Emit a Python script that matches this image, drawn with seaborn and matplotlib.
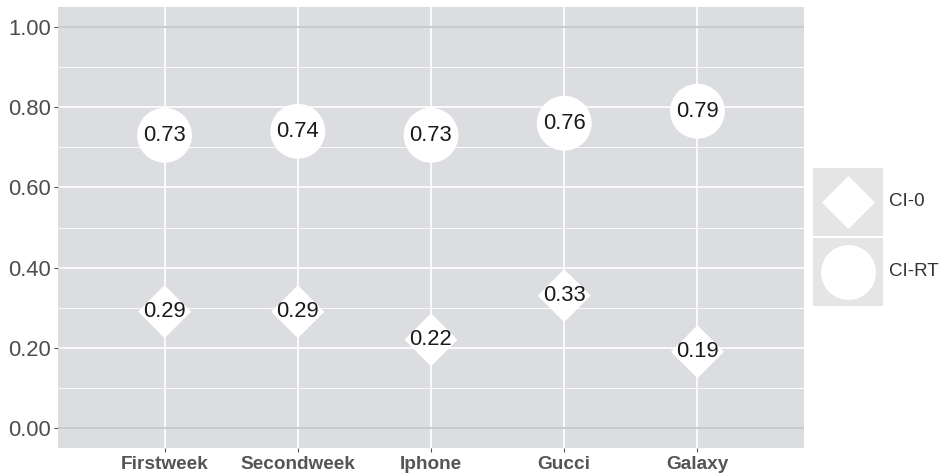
import pandas as pd
import matplotlib.pyplot as plt
import seaborn as sns
from matplotlib.patches import Rectangle

# Data
categories = ['Firstweek', 'Secondweek', 'Iphone', 'Gucci', 'Galaxy']
ci_0 = [0.29, 0.29, 0.22, 0.33, 0.19]
ci_rt = [0.73, 0.74, 0.73, 0.76, 0.79]
series = ['CI-0', 'CI-RT']

df = pd.DataFrame({
    'category': categories * 2,
    'value': ci_0 + ci_rt,
    'type': ['CI-0'] * len(categories) + ['CI-RT'] * len(categories),
})

sns.set_theme(style='darkgrid')
plt.rcParams['font.family'] = ['Liberation Sans', 'DejaVu Sans']

panel = '#dcdde0'
fig = plt.figure(figsize=(9.44, 4.75), dpi=100)
ax = fig.add_axes([58/944, 1 - 448/475, (804 - 58)/944, (448 - 7)/475])
ax.set_facecolor(panel)

marker_of = {'CI-0': 'D', 'CI-RT': 'o'}
size_of = {'CI-0': 730, 'CI-RT': 1560}

for t in series:
    sub = df[df['type'] == t]
    sns.scatterplot(data=sub, x='category', y='value', marker=marker_of[t],
                    s=size_of[t], color='white', edgecolor='none', linewidth=0,
                    ax=ax, zorder=3, legend=False)
    for i, row in sub.reset_index(drop=True).iterrows():
        ax.text(i, row['value'], f"{row['value']:.2f}", ha='center', va='center',
                fontsize=15.8, color='#1a1a1a', zorder=4)

ax.set_xlim(-0.8, len(categories) - 0.2)
ax.set_ylim(-0.05, 1.05)
ax.set_yticks([0, 0.2, 0.4, 0.6, 0.8, 1.0])
ax.set_yticks([0.1, 0.3, 0.5, 0.7, 0.9], minor=True)
ax.set_yticklabels([f'{v:.2f}' for v in [0, 0.2, 0.4, 0.6, 0.8, 1.0]])
ax.set_xticks(range(len(categories)))
ax.set_xticklabels(categories, fontweight='bold')

ax.grid(which='major', color='white', linewidth=1.2, zorder=0)
ax.grid(which='minor', axis='y', color='white', linewidth=0.6, zorder=0)
ax.axhline(0, color='#c8c9cc', linewidth=1.4, zorder=1)
ax.axhline(1, color='#c8c9cc', linewidth=1.4, zorder=1)
ax.set_axisbelow(True)

ax.tick_params(axis='y', labelsize=15.8, labelcolor='#4d4d4d', length=3, width=0.8,
               color='#555555', pad=2, left=True, which='major')
ax.tick_params(axis='y', which='minor', length=0)
ax.tick_params(axis='x', labelsize=13.7, labelcolor='#555555', length=3, width=0.8,
               color='#555555', pad=3, bottom=True)
ax.set_xlabel('')
ax.set_ylabel('')
for s in ax.spines.values():
    s.set_visible(False)

# legend
lax = fig.add_axes([813/944, 1 - 307/475, 70/944, 140/475])
lax.set_xlim(0, 1)
lax.set_ylim(0, 2)
lax.axis('off')
for k, t in enumerate(series):
    y0 = 1 - k
    lax.add_patch(Rectangle((0, y0 + 0.01), 1, 0.98, facecolor='#e5e5e6',
                            edgecolor='none'))
    lax.scatter([0.5], [y0 + 0.5], marker=marker_of[t], s=size_of[t],
                color='white', linewidths=0, zorder=3)
    fig.text(889/944, 1 - (167 + 35 + 70*k)/475, t, ha='left', va='center',
             fontsize=13.5, color='#333333')

fig.savefig('out.png', dpi=100)
